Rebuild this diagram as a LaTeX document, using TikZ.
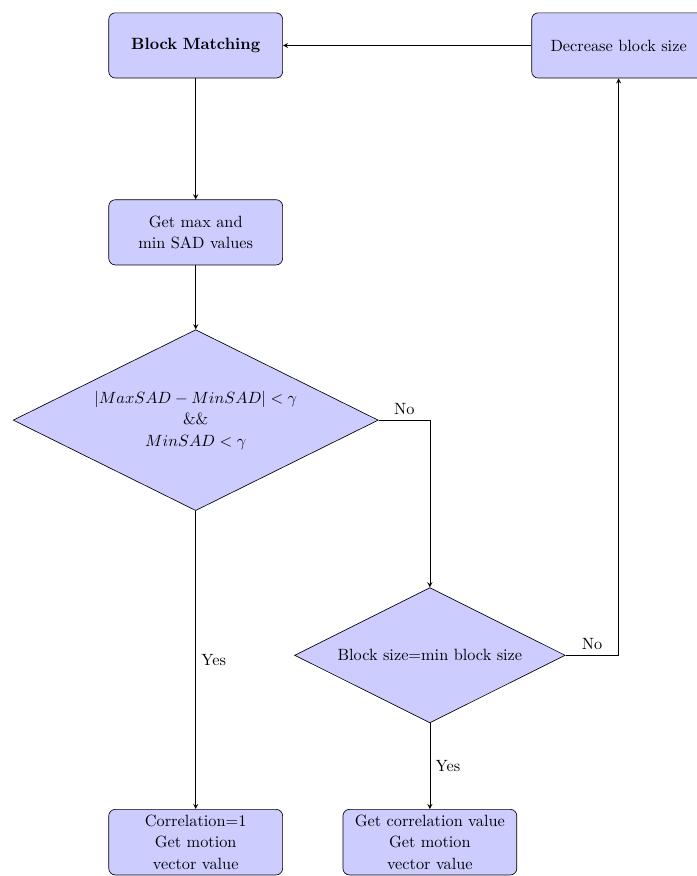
\documentclass[tikz,border=0pt]{standalone}
\usetikzlibrary{shapes.geometric}
\usepackage{amsmath}

\begin{document}
\begin{tikzpicture}[
        block/.style={rectangle, draw, fill=blue!20, text width=10em, align=center,
            rounded corners, minimum height=4em, font=\linespread{1.1}\selectfont},
        decision/.style={diamond, draw, fill=blue!20, aspect=2, align=center,
            inner sep=0pt, font=\linespread{1.1}\selectfont},
        line/.style={draw, -stealth}
    ]
    \useasboundingbox (0,0) rectangle (15.01,-18.89);
    % Blocks:
    % Are placed at fixed coordinates, in two columns:
    \node [block] (match) at (4.22,-0.98) {\textbf{Block Matching}};
    \node [block] (dec) at (13.34,-0.98) {Decrease block size};
    \node [block] (getmax) at (4.22,-5.01) {Get max and\\min SAD values};
    \node [decision, minimum width=224pt, minimum height=111pt] (cond) at (4.22,-9.06)
        {$|MaxSAD-MinSAD|<\gamma$\\\&\&\\$MinSAD<\gamma$};
    \node [decision, minimum width=166pt, minimum height=83pt] (minsize) at (9.27,-14.13)
        {Block size=min block size};
    \node [block] (corr) at (4.22,-18.16) {Correlation=1\\Get motion\\vector value};
    \node [block] (getcorr) at (9.27,-18.16) {Get correlation value\\Get motion\\vector value};

    % Connectors:
    \path [line] (match) -- (getmax);
    \path [line] (getmax) -- (cond);
    \path [line] (cond) -| node [above, pos=0.25] {No} (minsize);
    \path [line] (cond) -- node [right] {Yes} (corr);
    \path [line] (minsize) -- node [right] {Yes} (getcorr);
    \path [line] (minsize) -| node [above, pos=0.25] {No} (dec);
    \path [line] (dec) -- (match);
\end{tikzpicture}
\end{document}
